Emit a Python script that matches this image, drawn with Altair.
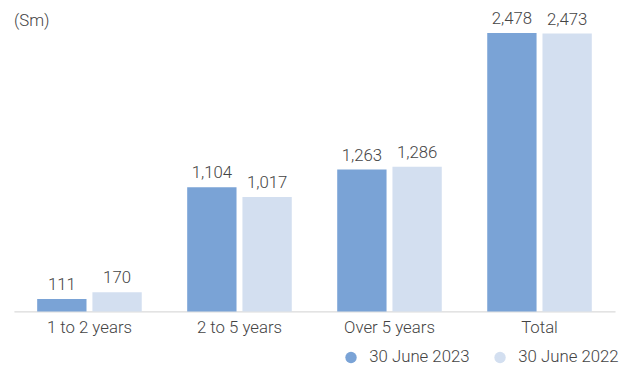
import altair as alt
import pandas as pd

categories = ["1 to 2 years", "2 to 5 years", "Over 5 years", "Total"]
series = ["30 June 2023", "30 June 2022"]
values_2023 = [111, 1104, 1263, 2478]
values_2022 = [170, 1017, 1286, 2473]
colors = ["#7aa3d6", "#d3dff0"]
unit_label = ["(Sm)"]

rows = []
for c, a, b in zip(categories, values_2023, values_2022):
    rows.append({"category": c, "series": series[0], "value": a})
    rows.append({"category": c, "series": series[1], "value": b})
df = pd.DataFrame(rows)

FONT = "Roboto"
WEIGHT = 300
TXT = "#444444"
FS = 17

x = alt.X("category:N", sort=categories, title=None,
          scale=alt.Scale(paddingInner=0.303, paddingOuter=0.155, round=False),
          axis=alt.Axis(labelAngle=0, ticks=False, domainColor="#d0d0d0", domainWidth=1,
                        labelFont=FONT, labelFontSize=FS, labelFontWeight=WEIGHT,
                        labelColor=TXT, labelPadding=8))
xo = alt.XOffset("series:N", sort=series,
                 scale=alt.Scale(paddingInner=0.107, paddingOuter=0, round=False))
y = alt.Y("value:Q", scale=alt.Scale(domain=[0, 2600]), axis=None)

base = alt.Chart(df)

bars = base.mark_bar().encode(
    x=x, xOffset=xo, y=y,
    color=alt.Color("series:N", sort=series,
                    scale=alt.Scale(domain=series, range=colors),
                    legend=alt.Legend(title=None, orient="none", direction="horizontal",
                                      legendX=333, legendY=334, symbolType="circle",
                                      symbolSize=133, symbolStrokeWidth=0,
                                      labelFont=FONT, labelFontSize=FS, labelFontWeight=WEIGHT,
                                      labelColor=TXT, labelOffset=10, columnPadding=22)),
)

labels = base.mark_text(dy=-9, baseline="alphabetic", font=FONT, fontSize=FS,
                        fontWeight=WEIGHT, color=TXT).encode(
    x=x, xOffset=xo, y=y, text=alt.Text("value:Q", format=",")
)

unit = alt.Chart(pd.DataFrame({"t": unit_label})).mark_text(
    align="left", baseline="middle", font=FONT, fontSize=FS, fontWeight=WEIGHT, color=TXT
).encode(x=alt.value(0), y=alt.value(2), text="t:N")

chart = alt.layer(bars, labels, unit).properties(
    width=609, height=296,
    autosize=alt.AutoSizeParams(type="none"),
    padding={"left": 6, "top": 9, "right": 4, "bottom": 55},
).configure_view(stroke=None)

chart.save("out.html", embed_options={"renderer": "svg", "actions": False})
